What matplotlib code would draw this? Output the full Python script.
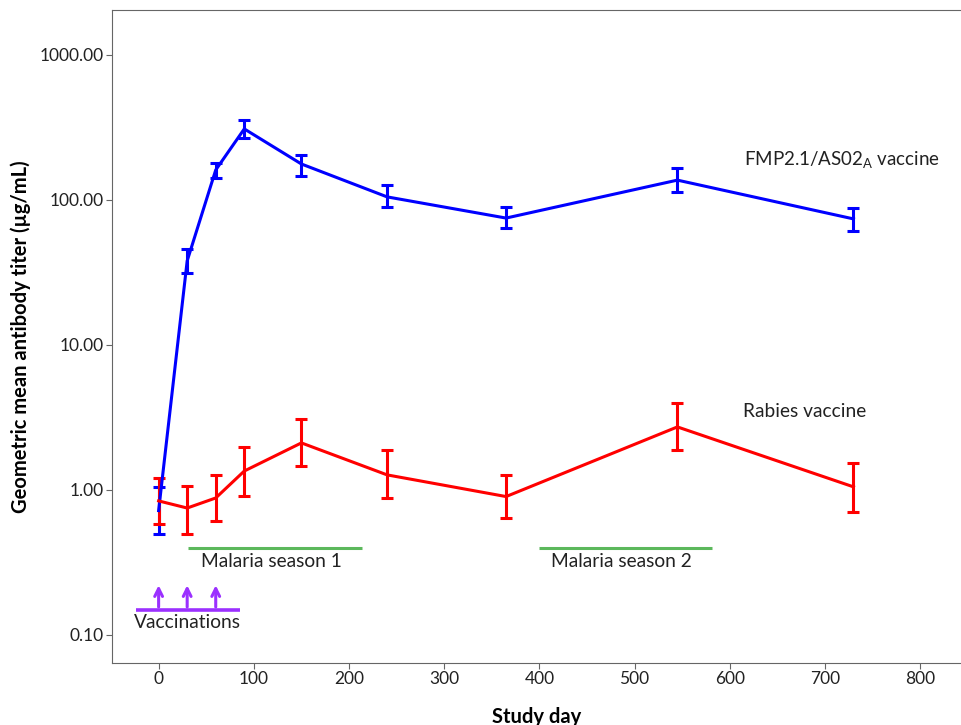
import matplotlib.pyplot as plt
import numpy as np

plt.rcParams['font.family'] = ['Lato', 'DejaVu Sans']

# дні дослідження
days = [0, 30, 60, 90, 150, 240, 365, 545, 730]

# FMP2.1/AS02A: середнє, верхня та нижня межі
fmp_mean = [0.72, 38, 161, 309, 177, 105, 75, 137, 74]
fmp_hi = [1.05, 46, 180, 356, 204, 127, 89, 166, 88]
fmp_lo = [0.50, 31.5, 142, 268, 146, 89, 64, 114, 61]

# вакцина від сказу
rab_mean = [0.84, 0.75, 0.88, 1.35, 2.11, 1.27, 0.90, 2.72, 1.05]
rab_hi = [1.21, 1.07, 1.27, 1.98, 3.09, 1.89, 1.26, 3.98, 1.53]
rab_lo = [0.58, 0.50, 0.61, 0.91, 1.47, 0.88, 0.64, 1.89, 0.70]

seasons = [(31, 214), (400, 581)]
season_labels = ["Malaria season 1", "Malaria season 2"]
vacc_days = [0, 30, 60]

y_ticks = [0.1, 1, 10, 100, 1000]
y_labels = ["0.10", "1.00", "10.00", "100.00", "1000.00"]
x_ticks = list(range(0, 900, 100))

fig = plt.figure(figsize=(9.62, 7.25), dpi=100)
ax = fig.add_axes([0.1164, 0.0855, 0.8836, 0.9007])

def draw(mean, lo, hi, color):
    mean = np.array(mean)
    err = [mean - np.array(lo), np.array(hi) - mean]
    ax.errorbar(days, mean, yerr=err, color=color, lw=2.2, elinewidth=2.2,
                capsize=4, capthick=2.2)

draw(fmp_mean, fmp_lo, fmp_hi, '#0000ff')
draw(rab_mean, rab_lo, rab_hi, '#ff0000')

# сезони малярії
for (s, e), lab in zip(seasons, season_labels):
    ax.plot([s, e], [0.4, 0.4], color='#5cb85c', lw=2.2, solid_capstyle='butt')
    ax.text((s + e) / 2 - 4, 0.32, lab, ha='center', va='center', fontsize=13.8, color='#222222')

# вакцинації
ax.plot([-24, 85], [0.149, 0.149], color='#9b30ff', lw=2.6, solid_capstyle='butt')
for d in vacc_days:
    ax.annotate('', xy=(d, 0.23), xytext=(d, 0.149),
                arrowprops=dict(arrowstyle='->', color='#9b30ff', lw=2.2,
                                mutation_scale=14))
ax.text(30, 0.121, "Vaccinations", ha='center', va='center', fontsize=13.8, color='#222222')

ax.text(615, 189, "FMP2.1/AS02$_\\mathregular{A}$ vaccine", ha='left', va='center',
        fontsize=13.5, color='#222222')
ax.text(614, 3.5, "Rabies vaccine", ha='left', va='center', fontsize=13.8, color='#222222')

ax.set_yscale('log')
ax.set_ylim(0.064, 2042)
ax.set_xlim(-49, 844)
ax.set_yticks(y_ticks)
ax.set_yticklabels(y_labels)
ax.minorticks_off()
ax.set_xticks(x_ticks)

ax.spines['right'].set_visible(False)
for sp in ['left', 'top', 'bottom']:
    ax.spines[sp].set_color('#666666')
ax.tick_params(axis='both', colors='#666666', labelcolor='#222222', labelsize=12.5,
               length=4, pad=2)

ax.set_ylabel("Geometric mean antibody titer (µg/mL)", fontsize=14.5, fontweight='bold', labelpad=6)
ax.set_xlabel("Study day", fontsize=14.5, fontweight='bold', labelpad=14)

fig.savefig("out.png", dpi=100)
